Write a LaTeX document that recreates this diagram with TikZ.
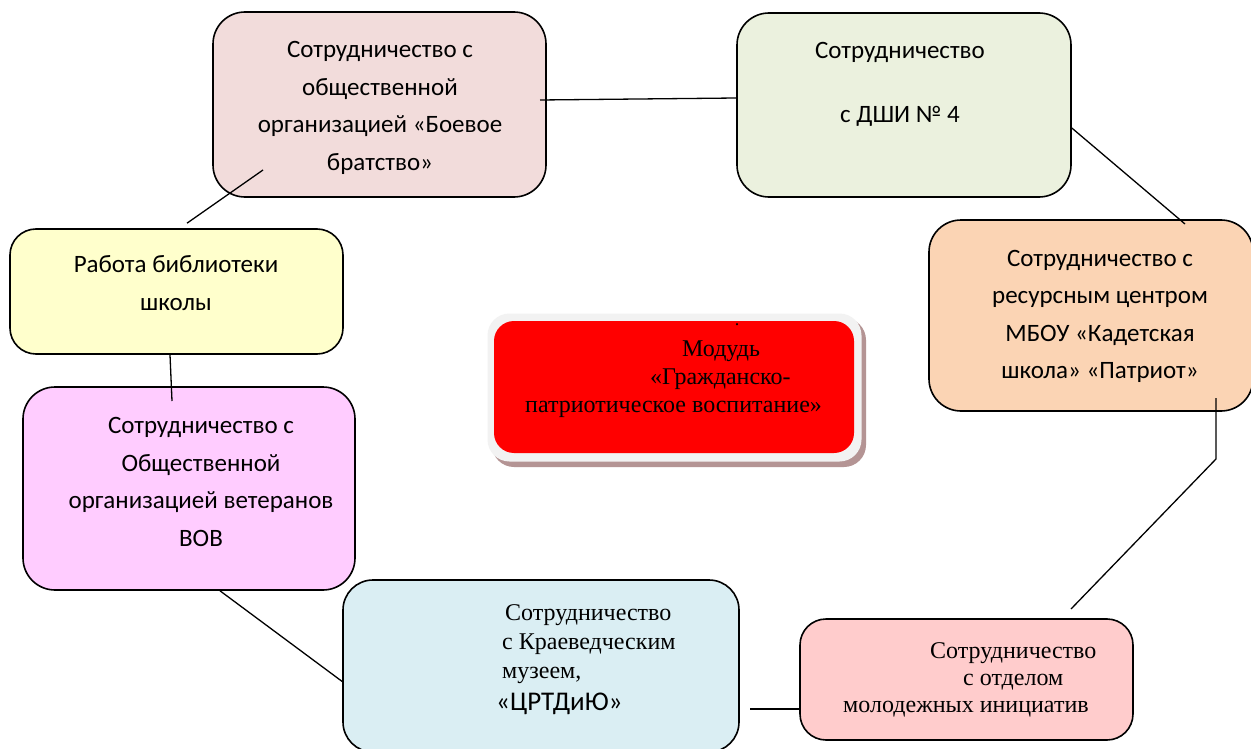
\documentclass[tikz,border=0pt]{standalone}
\usepackage{fontspec}
\setmainfont{Carlito}
\newfontfamily\tms{Liberation Serif}
\usetikzlibrary{calc}
\definecolor{cBoevoe}{HTML}{F2DCDB}
\definecolor{cDshi}{HTML}{EBF1DE}
\definecolor{cKadet}{HTML}{FBD4B4}
\definecolor{cLib}{HTML}{FFFFCC}
\definecolor{cVov}{HTML}{FFCCFF}
\definecolor{cMuseum}{HTML}{DAEEF3}
\definecolor{cMolod}{HTML}{FFCCCC}
\definecolor{cShadow}{HTML}{B49494}
\definecolor{cRim}{HTML}{F2F2F2}
\begin{document}
\begin{tikzpicture}[x=1pt,y=-1pt,
  box/.style={draw=black, line width=1.6pt, rounded corners=#1},
  box/.default=32pt,
  conn/.style={draw=black, line width=1.3pt},
  ctext/.style={font=\fontsize{25}{37.5}\selectfont, align=center, inner sep=0pt},
  ttext/.style={font=\tms\fontsize{24}{28}\selectfont, align=left, inner sep=0pt}]
\useasboundingbox (0,0) rectangle (1251,749);
\fill[white] (0,0) rectangle (1251,749);

% boxes
\node[box, fill=cBoevoe, minimum width=333pt, minimum height=185pt] (boevoe) at (379.5,104.5) {};
\node[box, fill=cDshi, minimum width=334pt, minimum height=184pt] (dshi) at (904,105) {};
\node[box, fill=cKadet, minimum width=324pt, minimum height=191pt] (kadet) at (1091,315.5) {};
\node[box=26pt, fill=cLib, minimum width=333pt, minimum height=125pt] (lib) at (176.5,291.5) {};
\node[box, fill=cVov, minimum width=332pt, minimum height=203pt] (vov) at (189,488.5) {};
\node[box=30pt, fill=cMuseum, minimum width=396pt, minimum height=172pt] (museum) at (541,666) {};
\node[box=26pt, fill=cMolod, minimum width=333pt, minimum height=121pt] (molod) at (966.5,679.5) {};

% central module
\node[fill=cShadow, rounded corners=22pt, minimum width=374pt, minimum height=149pt] (cshadow) at (679,392.5) {};
\node[fill=cRim, rounded corners=22pt, minimum width=374pt, minimum height=148pt] (crim) at (674.5,387.5) {};
\node[fill=red, rounded corners=20pt, minimum width=360pt, minimum height=132pt] (central) at (674,387) {};

% texts
\node[ctext] (boevoeT) at (380,108) {Сотрудничество с\\общественной\\организацией «Боевое\\братство»};
\node[ctext] (dshiT) at (900,84.5) {Сотрудничество\\[26.5pt]с ДШИ № 4};
\node[ctext] (kadetT) at (1100,316.5) {Сотрудничество с\\ресурсным центром\\МБОУ «Кадетская\\школа» «Патриот»};
\node[ctext] (libT) at (176,283) {Работа библиотеки\\школы};
\node[ctext] (vovT) at (201,482) {Сотрудничество с\\Общественной\\организацией ветеранов\\ВОВ};
\node[font=\tms\fontsize{18}{18}\selectfont, inner sep=0pt] (dotT) at (737,325) {.};
\node[ttext, anchor=north west] (centralT) at (525,341) {\hspace*{157pt}Модудь\\\hspace*{125pt}«Гражданско-\\патриотическое воспитание»};
\node[ttext, anchor=north west, font=\tms\fontsize{24}{29}\selectfont] (museumT) at (496,604) {\hspace*{9pt}Сотрудничество\\\hspace*{6pt}с Краеведческим\\\hspace*{6pt}музеем,\\[3pt]{\rmfamily\fontsize{27}{29}\selectfont«ЦРТДиЮ»}};
\node[ttext, anchor=north west, font=\tms\fontsize{24}{27}\selectfont] (molodT) at (843,642) {\hspace*{87pt}Сотрудничество\\\hspace*{120pt}с отделом\\молодежных инициатив};

% connectors
\coordinate (a1) at (540,100);
\coordinate (a2) at (1185,224);
\coordinate (a3) at (1216,398);
\coordinate (a4) at (1216,459);
\coordinate (a5) at (1071,609);
\coordinate (a6) at (750,709);
\coordinate (a7) at (172,401);
\coordinate (a9) at (263,170);
\draw[conn] (a1) -- ([yshift=7pt]dshi.west);
\draw[conn] ([yshift=-23pt]dshi.east) -- (a2);
\draw[conn] (a3) -- (a4) -- (a5);
\draw[conn] (a6) -- ([yshift=-29.5pt]molod.west);
\draw[conn] ([xshift=31pt]vov.south) -- ([yshift=-15.5pt]museum.west);
\draw[conn] ([xshift=-6.5pt]lib.south) -- (a7);
\draw[conn] ([xshift=10.5pt,yshift=5pt]lib.north) -- (a9);
\end{tikzpicture}
\end{document}
